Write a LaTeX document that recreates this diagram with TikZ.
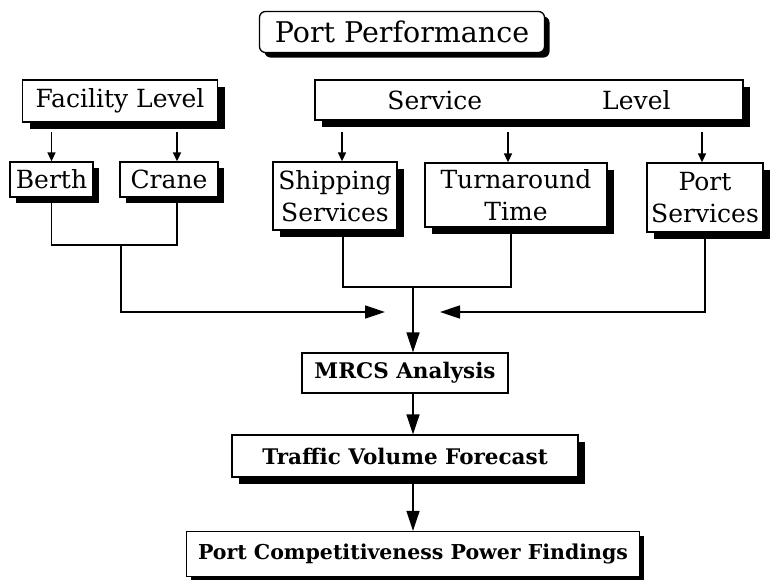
\documentclass[tikz,border=0pt]{standalone}
\usepackage{fontspec}
\setmainfont{DejaVu Serif}
\usetikzlibrary{arrows.meta,shadows}
\begin{document}
\begin{tikzpicture}[x=1pt,y=-1pt,
  shd/.style={drop shadow={fill=black,opacity=1,shadow xshift=#1,shadow yshift=-#1}},
  shd/.default=7pt,
  box/.style={draw=black,line width=1.3pt,fill=white,inner sep=0pt,align=center,
    font=\fontsize{25}{32}\selectfont},
  bbox/.style={box,font=\bfseries\fontsize{21.5}{26}\selectfont},
  ln/.style={line width=1.6pt},
  sarr/.style={line width=1.6pt,-{Triangle[length=9pt,width=8pt]}},
  arr/.style={line width=1.6pt,-{Triangle[length=20pt,width=13pt]}}
]
\useasboundingbox (0,0) rectangle (773,579);
% top
\node[box,shd=5pt,rounded corners=6pt,minimum width=285pt,minimum height=41pt,font=\fontsize{28.5}{34}\selectfont] (PP) at (402,32) {Port Performance};
\node[box,shd,minimum width=195pt,minimum height=42pt] (FL) at (120,101) {Facility Level};
\node[box,shd,minimum width=428pt,minimum height=40pt] (SL) at (529,100) {Service\hspace{120pt}Level};
% second row
\node[box,shd=6pt,minimum width=83pt,minimum height=35pt] (BE) at (51.5,179.5) {Berth};
\node[box,shd=6pt,minimum width=98pt,minimum height=35pt] (CR) at (169,179.5) {Crane};
\node[box,shd,minimum width=124pt,minimum height=68pt] (SS) at (335,196) {Shipping\\Services};
\node[box,shd,minimum width=182pt,minimum height=64pt] (TT) at (516,195) {Turnaround\\Time};
\node[box,shd,minimum width=116pt,minimum height=69pt] (PS) at (705,197.5) {Port\\Services};
% bottom
\node[bbox,minimum width=206pt,minimum height=40pt] (MR) at (405,373) {MRCS Analysis};
\node[bbox,shd,minimum width=346pt,minimum height=42pt] (TV) at (405,456) {Traffic Volume Forecast};
\node[bbox,shd=4pt,minimum width=453pt,minimum height=45pt,font=\bfseries\fontsize{20.5}{26}\selectfont] (PC) at (413,554) {Port Competitiveness Power Findings};
% level arrows
\draw[sarr] ([yshift=29pt]BE.north) -- (BE.north);
\draw[sarr] ([xshift=8pt,yshift=29pt]CR.north) -- ([xshift=8pt]CR.north);
\draw[sarr] ([xshift=7pt,yshift=29pt]SS.north) -- ([xshift=7pt]SS.north);
\draw[sarr] ([xshift=-8pt,yshift=30pt]TT.north) -- ([xshift=-8pt]TT.north);
\draw[sarr] ([xshift=-3pt,yshift=30pt]PS.north) -- ([xshift=-3pt]PS.north);
% brackets
\coordinate (fj) at (121,245);
\coordinate (fa) at (121,312);
\coordinate (fe) at (385,312);
\coordinate (sj) at (413,287);
\coordinate (pe) at (440,312);
\draw[ln] (BE.south) -- (BE.south |- fj) -- ([xshift=8pt]CR.south |- fj) -- ([xshift=8pt]CR.south);
\draw[arr] (fj) -- (fa) -- (fe);
\draw[ln] ([xshift=8pt]SS.south) -- ([xshift=8pt]SS.south |- sj) -- ([xshift=-5pt]TT.south |- sj) -- ([xshift=-5pt]TT.south);
\draw[arr] (sj) -- (sj |- MR.north);
\draw[arr] (PS.south) -- (PS.south |- pe) -- (pe);
\draw[arr] (MR.south -| sj) -- (TV.north -| sj);
\draw[arr] ([yshift=-4pt]TV.south -| sj) -- (PC.north -| sj);
\end{tikzpicture}
\end{document}
